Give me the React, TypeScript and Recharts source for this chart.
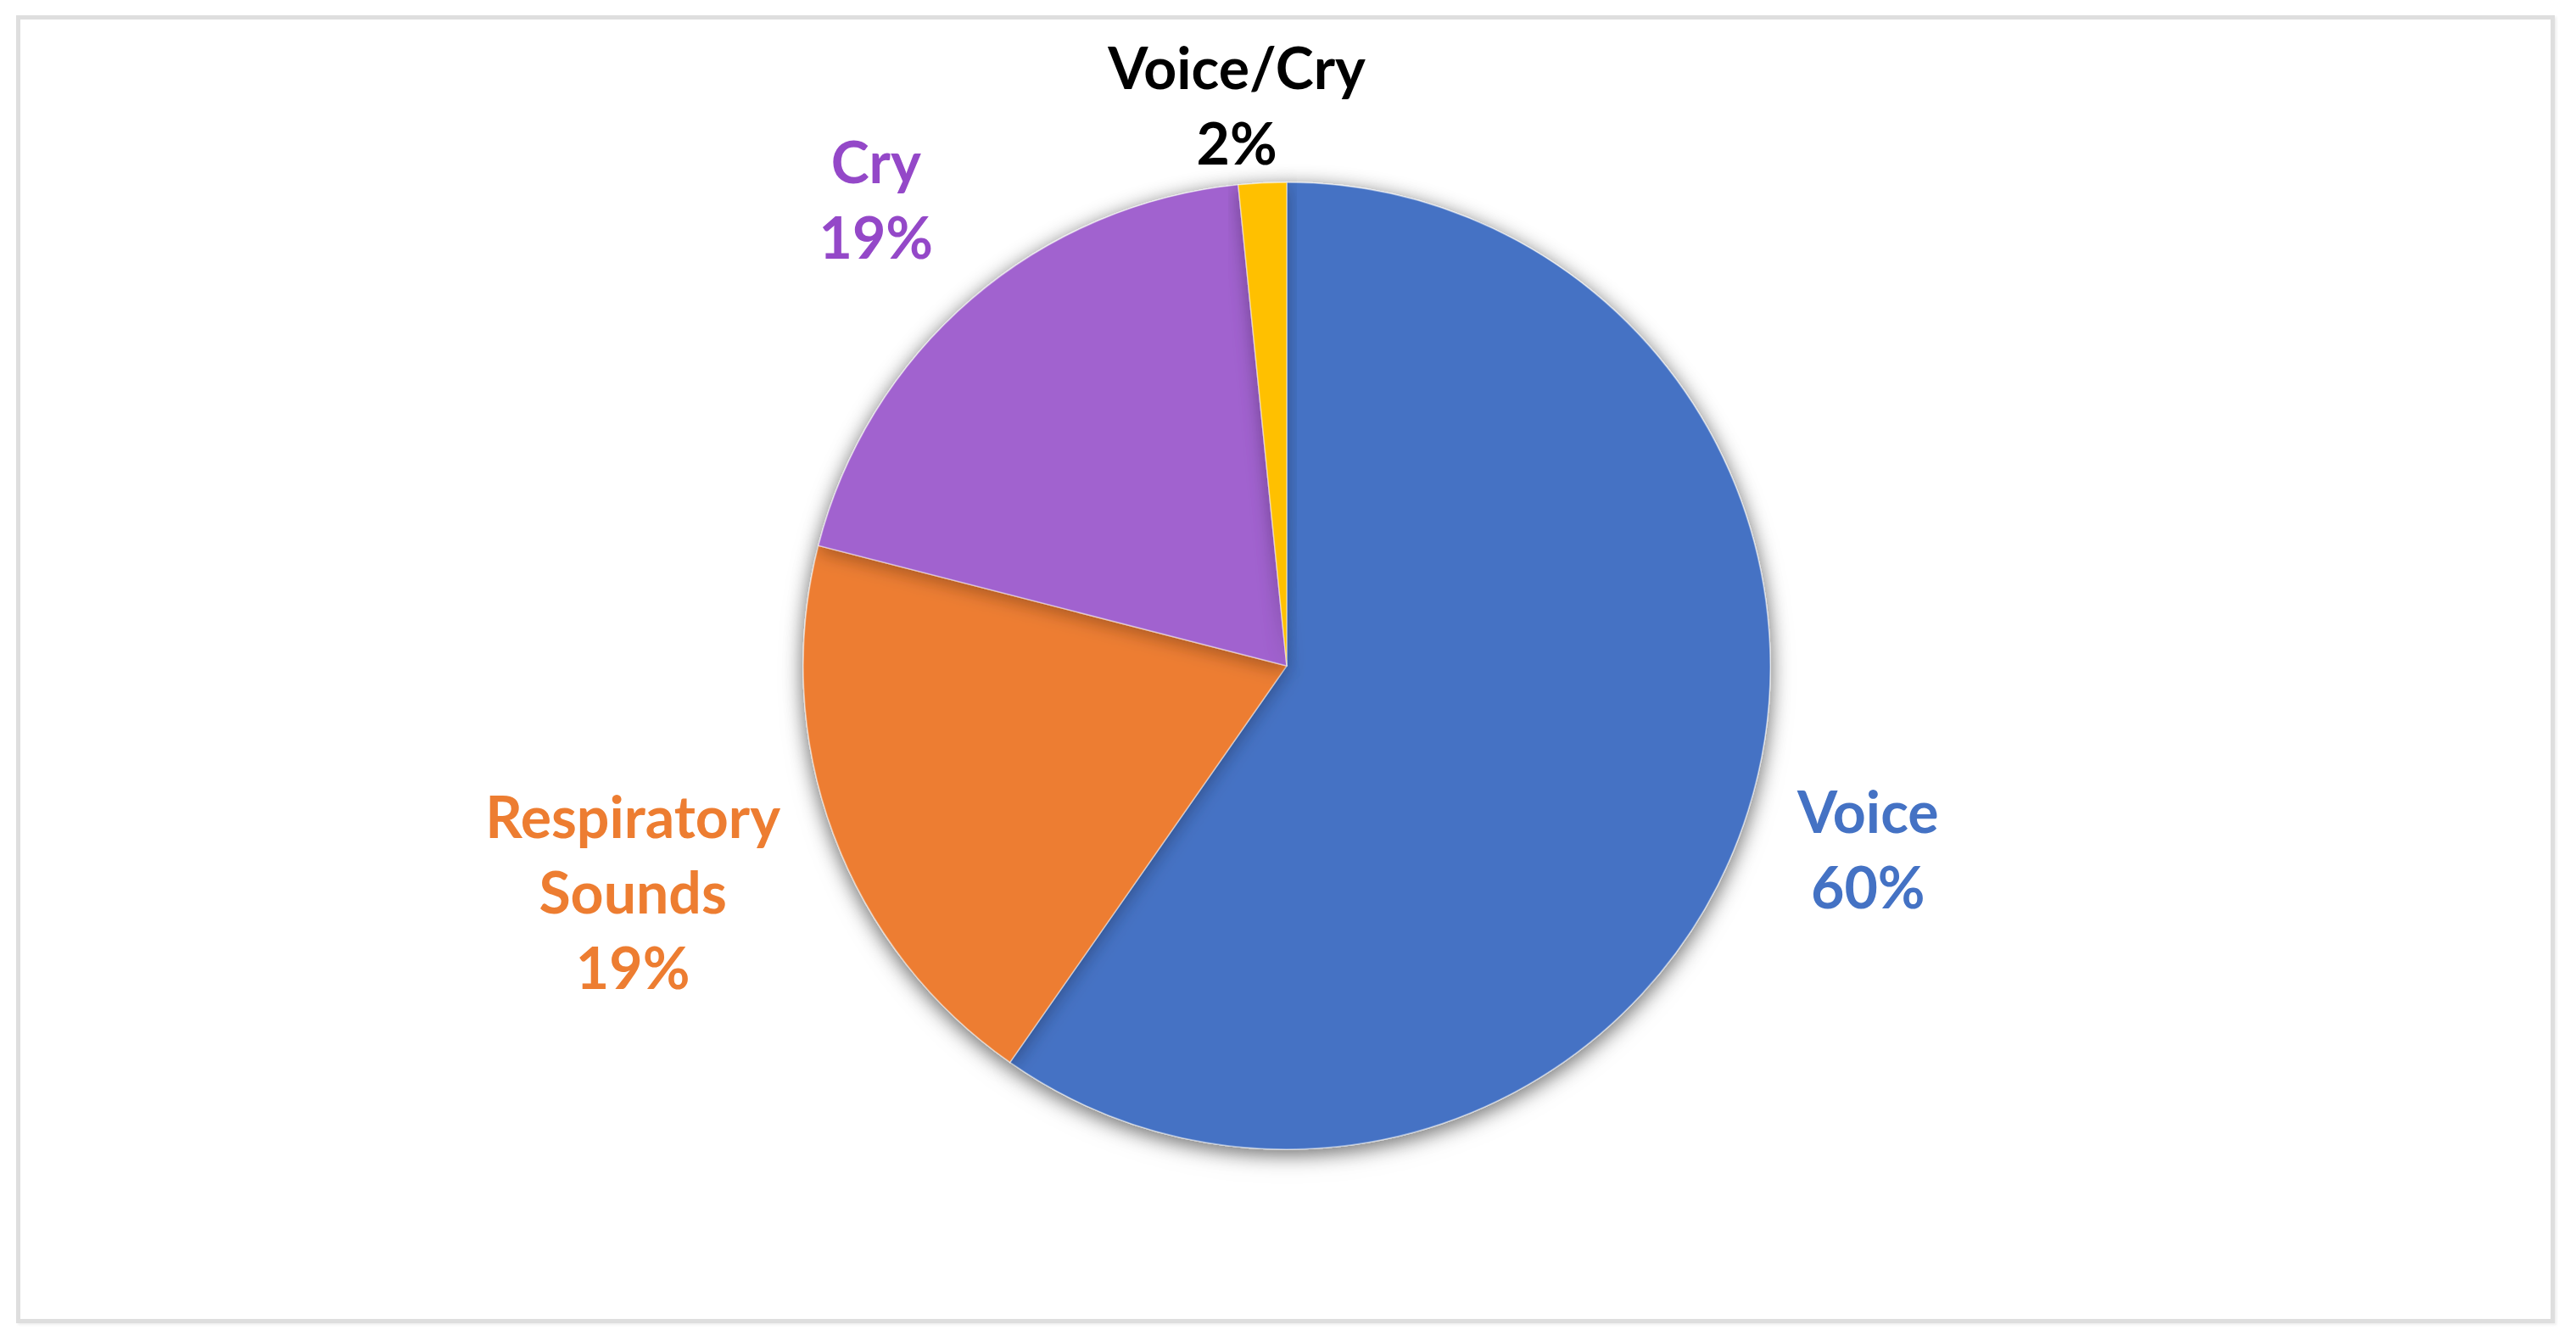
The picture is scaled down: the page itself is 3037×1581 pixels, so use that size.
import { PieChart, Pie, Cell } from "recharts";

// sound categories, clockwise from 12 o'clock
const categories = ["Voice", "Respiratory Sounds", "Cry", "Voice/Cry"];
const shares = [59.7, 19.3, 19.4, 1.6];
const labelLines = [["Voice"], ["Respiratory", "Sounds"], ["Cry"], ["Voice/Cry"]];

const SLICE_COLORS = ["#4472C4", "#ED7D31", "#A162CF", "#FFC000"];
const LABEL_COLORS = ["#4472C4", "#ED7D31", "#9448C8", "#000000"];
// label placement: distance outside the rim, and a small angular nudge (deg)
const LABEL_GAP = [148, 245, 164, 95];
const LABEL_TURN = [0.1, -1.4, 0.6, 2.2];

const WIDTH = 3037;
const HEIGHT = 1581;
const RADIAN = Math.PI / 180;
const FONT_SIZE = 68;
const LINE_H = 89;

const data = categories.map((name, i) => ({ name, value: shares[i] }));

function renderLabel(props: any) {
  const { cx, cy, midAngle, outerRadius, index, percent } = props;
  const r = outerRadius + LABEL_GAP[index];
  const a = (midAngle + LABEL_TURN[index]) * RADIAN;
  const x = cx + r * Math.cos(-a);
  const y = cy + r * Math.sin(-a);
  const lines = [...labelLines[index], `${Math.round(percent * 100)}%`];
  const top = y - ((lines.length - 1) * LINE_H) / 2;
  return (
    <text
      key={`label-${index}`}
      x={x}
      y={top}
      textAnchor="middle"
      dominantBaseline="central"
      fill={LABEL_COLORS[index]}
      fontSize={FONT_SIZE}
      fontWeight={700}
      fontFamily="Lato, 'Open Sans', sans-serif"
    >
      {lines.map((line, i) => (
        <tspan key={i} x={x} y={top + i * LINE_H}>
          {line}
        </tspan>
      ))}
    </text>
  );
}

export default function App() {
  return (
    <div style={{ position: "relative", width: WIDTH, height: HEIGHT, margin: -8, background: "#fff" }}>
      <style>{`.pie-shadowed { filter: url(#pieShadow); }`}</style>
      <svg width={0} height={0} style={{ position: "absolute" }}>
        <defs>
          <filter id="pieShadow" x="-20%" y="-20%" width="140%" height="140%">
            <feDropShadow dx="0" dy="5" stdDeviation="11" floodColor="#000" floodOpacity="0.32" />
          </filter>
        </defs>
      </svg>
      <div
        style={{
          position: "absolute",
          left: 19,
          top: 18,
          width: 2993,
          height: 1542,
          boxSizing: "border-box",
          border: "5px solid #dedede",
          boxShadow: "2px 2px 3px rgba(0,0,0,0.07)",
        }}
      />
      <div style={{ position: "absolute", left: 0, top: 0 }}>
        <PieChart width={WIDTH} height={HEIGHT} margin={{ top: 0, right: 0, bottom: 0, left: 0 }}>
          <Pie
            className="pie-shadowed"
            data={data}
            dataKey="value"
            nameKey="name"
            cx={1517}
            cy={785}
            outerRadius={570}
            startAngle={90}
            endAngle={-270}
            labelLine={false}
            isAnimationActive={false}
          >
            {data.map((entry, i) => (
              <Cell key={entry.name} fill={SLICE_COLORS[i]} stroke="rgba(255,255,255,0.45)" strokeWidth={1.5} />
            ))}
          </Pie>
          <Pie
            data={data}
            dataKey="value"
            nameKey="name"
            cx={1517}
            cy={785}
            outerRadius={570}
            startAngle={90}
            endAngle={-270}
            fill="none"
            stroke="none"
            label={renderLabel}
            labelLine={false}
            isAnimationActive={false}
          />
        </PieChart>
      </div>
    </div>
  );
}
